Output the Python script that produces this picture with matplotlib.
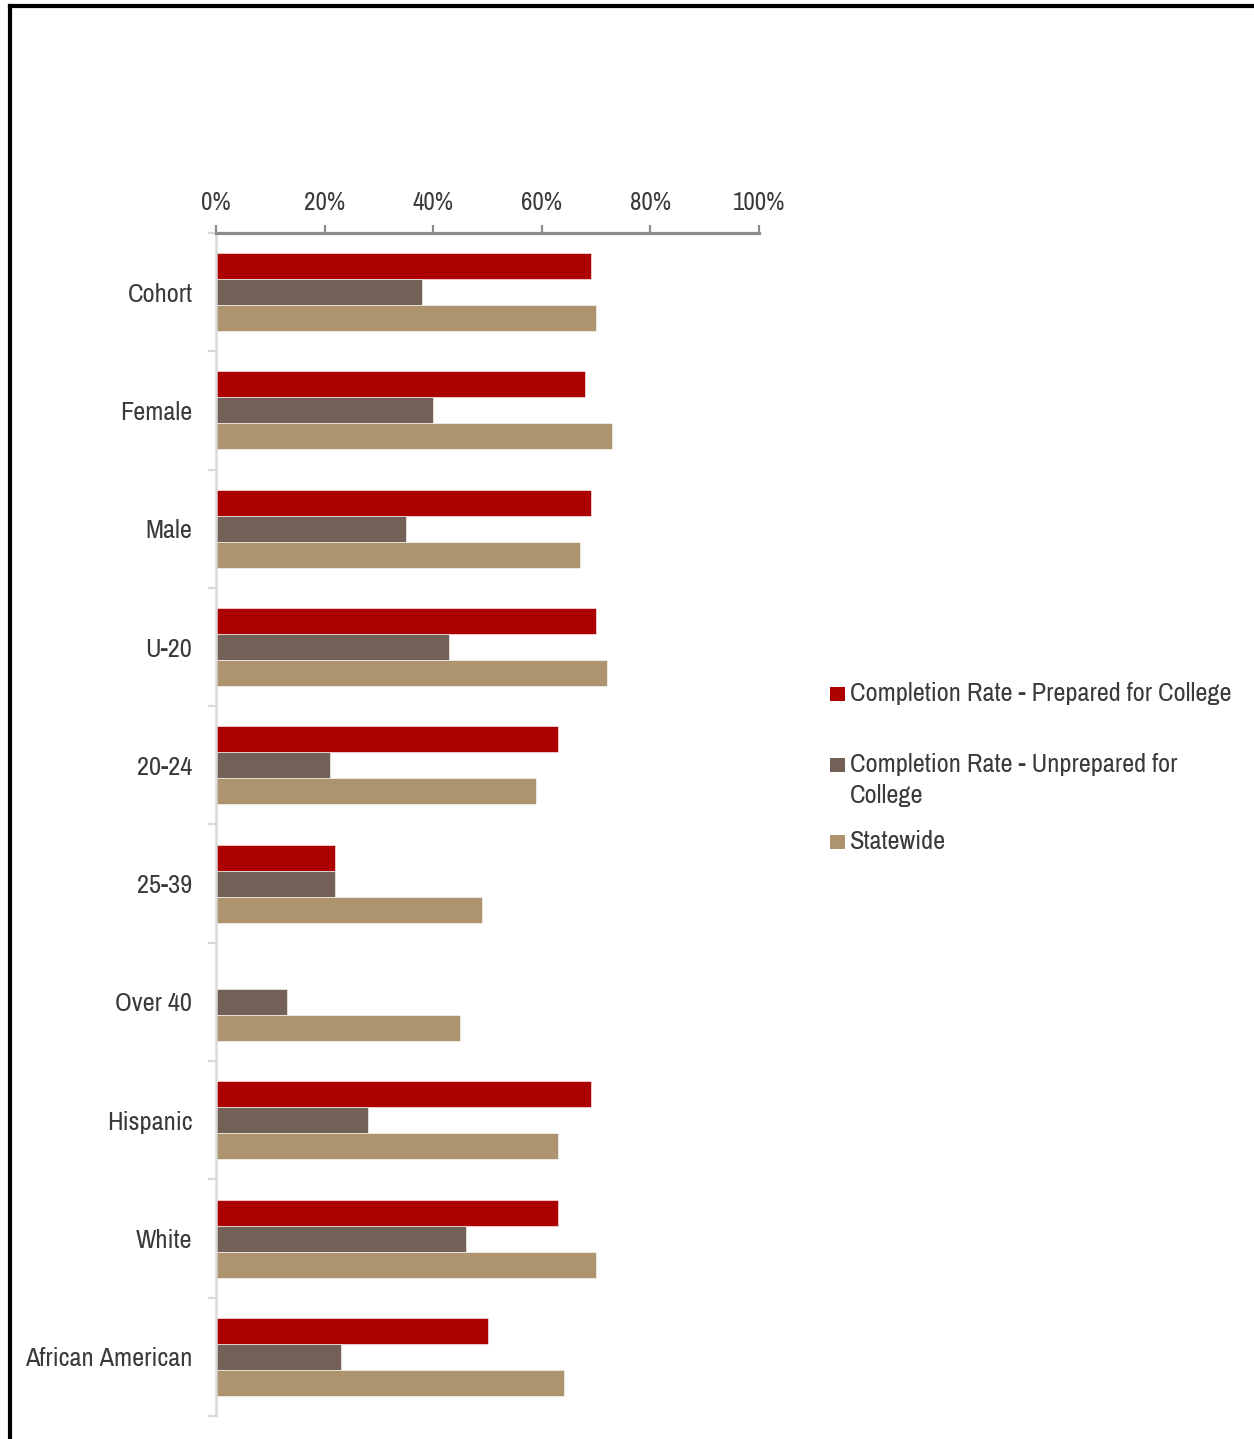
import numpy as np
import matplotlib
matplotlib.use("Agg")
import matplotlib.pyplot as plt
from matplotlib.patches import Rectangle
from matplotlib.lines import Line2D
from matplotlib.ticker import FixedLocator, PercentFormatter

plt.rcParams['font.family'] = ['Archivo Narrow', 'Liberation Sans', 'DejaVu Sans']

groups = ['Cohort', 'Female', 'Male', 'U-20', '20-24', '25-39',
          'Over 40', 'Hispanic', 'White', 'African American']
prepared = [69, 68, 69, 70, 63, 22, 0, 69, 63, 50]
unprepared = [38, 40, 35, 43, 21, 22, 13, 28, 46, 23]
statewide = [70, 73, 67, 72, 59, 49, 45, 63, 70, 64]

names = ['Completion Rate - Prepared for College',
         'Completion Rate - Unprepared for\nCollege',
         'Statewide']
colors = ['#ad0000', '#736056', '#ad946e']
values = [prepared, unprepared, statewide]

TXT = '#3a3a3a'
W, H = 1254, 1439

fig = plt.figure(figsize=(W / 100, H / 100), dpi=100)
ax = fig.add_axes([216 / W, 1 - 1416 / H, 543 / W, (1416 - 233) / H])

y = np.arange(len(groups))
h = 0.22
for i, (vals, col) in enumerate(zip(values, colors)):
    ax.barh(y + (i - 1) * h, vals, height=h, color=col,
            edgecolor='white', linewidth=0.4)

ax.set_ylim(len(groups) - 0.5, -0.5)
ax.set_xlim(0, 100)

# percentage axis along the top
ax.xaxis.tick_top()
ax.set_xticks(np.arange(0, 101, 20))
ax.xaxis.set_major_formatter(PercentFormatter(decimals=0))
ax.tick_params(axis='x', direction='out', length=5.5, width=1.6, color='#8c8c8c',
               pad=8, labelsize=18, labelcolor=TXT)

# group names at centres, short ticks between groups
ax.set_yticks(y)
ax.set_yticklabels(groups)
ax.yaxis.set_minor_locator(FixedLocator(np.arange(-0.5, len(groups), 1.0)))
ax.tick_params(axis='y', which='major', length=0, pad=17, labelsize=19,
               labelcolor=TXT)
ax.tick_params(axis='y', which='minor', length=6, width=1.6, color='#d9d9d9')

for s in ['right', 'bottom']:
    ax.spines[s].set_visible(False)
ax.spines['top'].set_color('#8c8c8c')
ax.spines['top'].set_linewidth(2.3)
ax.spines['left'].set_color('#d9d9d9')
ax.spines['left'].set_linewidth(1.8)

# legend on the right, one entry at a time
# (square sits on the first line, text anchored on its last baseline)
box_base = [701, 772, 849]
text_base = [701, 803, 849]
for name, col, b, t in zip(names, colors, box_base, text_base):
    fig.add_artist(Rectangle((830 / W, 1 - b / H), 15 / W, 14 / H,
                             transform=fig.transFigure, color=col, lw=0))
    fig.text(850 / W, 1 - t / H, name, fontsize=19, color=TXT,
             va='baseline', ha='left', linespacing=1.41)

# outer frame (top and left edges)
fig.add_artist(Line2D([9.5 / W, 1.0], [1 - 5.5 / H, 1 - 5.5 / H], color='black',
                      lw=3.0, transform=fig.transFigure))
fig.add_artist(Line2D([9.5 / W, 9.5 / W], [0.0, 1 - 5.5 / H], color='black',
                      lw=3.0, transform=fig.transFigure))

fig.savefig('out.png', dpi=100, facecolor='white')
